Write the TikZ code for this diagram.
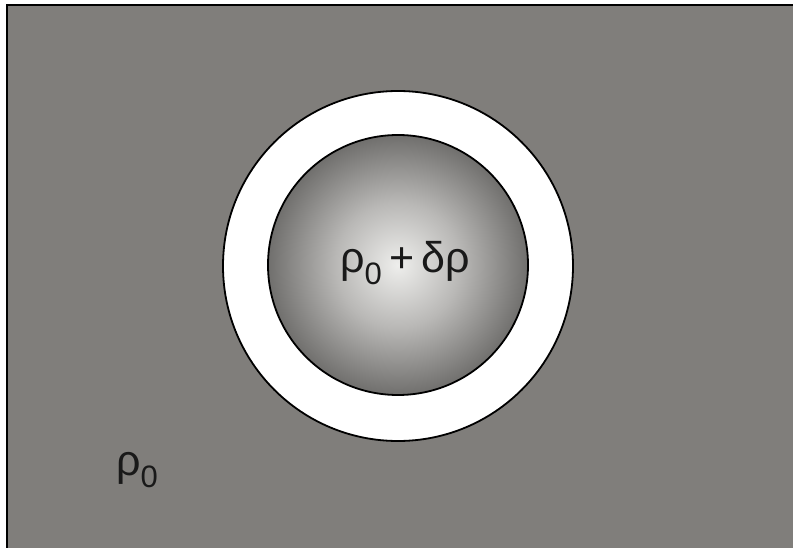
\documentclass[tikz,border=0pt]{standalone}
\usepackage{fontspec}
\setmainfont{Liberation Sans}
\definecolor{bggrey}{RGB}{128,126,123}
\definecolor{ctrlight}{RGB}{238,238,236}
\definecolor{midgrey}{RGB}{185,184,182}
\definecolor{edgegrey}{RGB}{112,111,109}
\pgfdeclareradialshading{blob}{\pgfpoint{0bp}{0bp}}{color(0bp)=(ctrlight); color(12bp)=(midgrey); color(25bp)=(edgegrey); color(50bp)=(edgegrey)}
\newcommand{\subz}{\raisebox{-0.26em}{\fontsize{31}{31}\selectfont 0}}
\tikzset{
  ring/.style={circle, draw=black, line width=1.8pt, inner sep=0pt, outer sep=0pt},
  lbl/.style={inner sep=0pt, font=\fontsize{43}{50}\selectfont, text=black!90}
}
\begin{document}
\begin{tikzpicture}[x=1pt,y=-1pt]
\useasboundingbox (0,0) rectangle (793,548);
\fill[white] (0,0) rectangle (793,548);
\fill[bggrey] (7,5) rectangle (793,548);
\draw[black, line width=2pt] (7,548) -- (7,5) -- (793,5);
\node[ring, fill=white, minimum size=350pt] (outer) at (398,266) {};
\node[ring, shading=blob, minimum size=260pt] (inner) at (398,265) {};
\node[lbl] (pert) at (405,263) {ρ\subz\,+\,δρ};
\node[lbl] (base) at (137,470) {ρ\subz};
\end{tikzpicture}
\end{document}
